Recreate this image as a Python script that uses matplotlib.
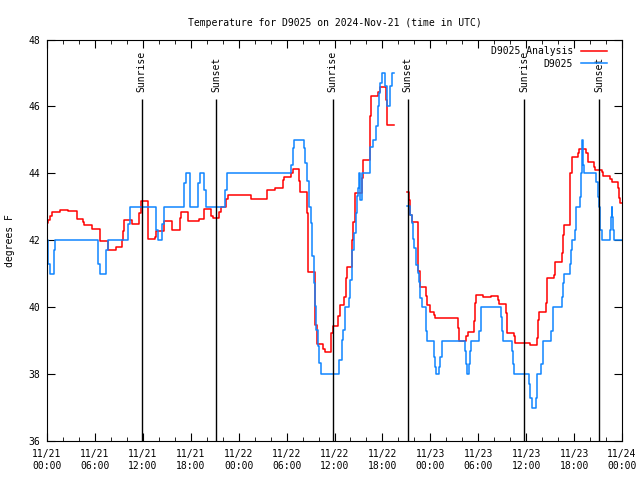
import matplotlib
matplotlib.use("Agg")
import matplotlib.pyplot as plt
import matplotlib.dates as mdates
import numpy as np

plt.rcParams["font.family"] = ["DejaVu Sans Mono"]
plt.rcParams["font.size"] = 7

# --------------------------------------------------------
# Data (hours since 2024-11-21 00:00 UTC, degrees F)
# --------------------------------------------------------

base = np.datetime64("2024-11-21T00:00")

red_h1 = [0, 0.17, 0.33, 0.67, 1.63, 2.59, 3.71, 4.55, 4.67, 5.68, 6.64, 7.68,
          8.6, 9.35, 9.56, 9.68, 10.69, 11.56, 11.77, 12.7, 13.5, 13.65, 14.65,
          15.6, 15.7, 16.65, 16.75, 17.7, 19.05, 19.6, 20.5, 20.75, 21.5, 21.75,
          22.4, 22.7, 25.6, 27.6, 28.6, 29.5, 29.65, 30.6, 30.8, 31.55, 31.7,
          32.55, 32.63, 32.7, 33.5, 33.6, 33.77, 34.6, 34.8, 35.6, 35.8, 36.5,
          36.7, 37.2, 37.4, 37.6, 38.15, 38.35, 38.55, 39.4, 39.6, 40.4, 40.5,
          40.6, 41.5, 41.7, 42.4, 42.6, 43.4]
red_v1 = [42.51, 42.61, 42.73, 42.84, 42.90, 42.86, 42.65, 42.56, 42.46, 42.34,
          41.99, 41.71, 41.80, 42.01, 42.29, 42.60, 42.50, 42.81, 43.17, 42.04,
          42.10, 42.29, 42.59, 42.43, 42.31, 42.66, 42.83, 42.59, 42.65, 42.93,
          42.73, 42.66, 42.83, 42.99, 43.23, 43.36, 43.24, 43.49, 43.56, 43.79,
          43.90, 44.0, 44.13, 43.76, 43.43, 42.81, 41.62, 41.05, 40.52, 39.48,
          38.91, 38.75, 38.66, 39.23, 39.45, 39.73, 40.05, 40.3, 40.87, 41.2,
          42.01, 42.56, 43.41, 43.86, 44.4, 44.9, 45.7, 46.31, 46.44, 46.59,
          46.2, 45.45, 45.45]

red_h2 = [45.1, 45.35, 45.5, 45.7, 46.4, 46.5, 46.7, 47.5, 47.6, 47.9, 48.45,
          48.6, 51.5, 51.6, 52.5, 52.7, 53.5, 53.6, 53.7, 54.55, 55.6, 56.5,
          56.6, 57.5, 57.6, 58.5, 58.6, 60.5, 61.3, 61.45, 61.6, 62.5, 62.65,
          63.45, 63.65, 64.45, 64.55, 64.7, 65.5, 65.55, 65.7, 66.5, 66.65,
          67.5, 67.7, 68.5, 68.66, 69.46, 69.66, 70.5, 70.7, 71.5, 71.65, 71.8,
          72.0]
red_v2 = [43.44, 43.19, 42.76, 42.54, 42.04, 41.07, 40.6, 40.32, 40.07, 39.87,
          39.78, 39.68, 39.38, 39.0, 39.13, 39.26, 39.58, 40.13, 40.35, 40.29,
          40.33, 40.2, 40.1, 39.83, 39.23, 39.13, 38.93, 38.86, 39.08, 39.63,
          39.87, 40.12, 40.87, 40.97, 41.35, 41.62, 42.16, 42.45, 42.99, 44.0,
          44.48, 44.6, 44.72, 44.6, 44.33, 44.2, 44.1, 44.04, 43.93, 43.83,
          43.74, 43.56, 43.26, 43.1, 43.1]

blue_h1 = [0, 0.17, 0.35, 0.85, 1.0, 6.43, 6.6, 7.45, 7.6, 10.18, 10.4, 13.7,
           13.9, 14.4, 14.65, 17.2, 17.45, 17.85, 18.95, 19.2, 19.6, 19.85,
           22.3, 22.5, 30.6, 30.8, 30.97, 32.2, 32.35, 32.6, 32.85, 33.06, 33.2,
           33.4, 33.56, 33.7, 33.9, 34.06, 34.27, 36.6, 36.9, 37.1, 37.3, 37.85,
           38.0, 38.2, 38.45, 38.65, 38.8, 38.98, 39.1, 39.25, 39.45, 40.45,
           40.8, 41.2, 41.4, 41.6, 41.7, 41.9, 42.35, 42.6, 42.95, 43.15, 43.4]
blue_v1 = [42.0, 41.3, 41.0, 41.7, 42.0, 41.3, 41.0, 41.7, 42.0, 42.5, 43.0,
           42.3, 42.0, 42.5, 43.0, 43.7, 44.0, 43.0, 43.7, 44.0, 43.5, 43.0,
           43.5, 44.0, 44.25, 44.75, 45.0, 44.75, 44.3, 43.76, 43.0, 42.51,
           41.52, 40.72, 40.02, 39.33, 38.85, 38.33, 38.0, 38.43, 39.03, 39.33,
           40.0, 40.27, 40.82, 41.72, 42.21, 42.81, 43.31, 43.56, 44.0, 43.2,
           44.0, 44.8, 45.0, 45.4, 46.0, 46.4, 46.7, 47.0, 46.6, 46.0, 46.6,
           47.0, 47.0]

blue_h2 = [45.1, 45.5, 45.65, 45.8, 46.0, 46.2, 46.4, 46.6, 46.75, 46.9, 47.4,
           47.5, 47.6, 48.4, 48.55, 48.65, 49.1, 49.25, 49.4, 52.4, 52.5, 52.6,
           52.85, 52.95, 53.1, 54.1, 54.3, 54.4, 56.85, 56.95, 57.15, 58.2,
           58.35, 58.5, 60.4, 60.5, 60.7, 61.2, 61.3, 61.4, 61.9, 62.05, 62.15,
           63.1, 63.3, 63.4, 64.45, 64.57, 64.7, 65.5, 65.57, 65.7, 66.1, 66.2,
           66.3, 66.75, 66.83, 66.9, 66.96, 67.07, 67.24, 68.8, 68.95, 69.1,
           69.25, 69.3, 69.45, 70.5, 70.58, 70.7, 70.8, 70.87, 71.0, 72.0]
blue_v2 = [43.03, 42.76, 42.51, 42.04, 41.77, 41.27, 41.02, 40.74, 40.27, 40.0,
           39.73, 39.28, 39.0, 38.5, 38.2, 38.0, 38.2, 38.5, 39.0, 38.7, 38.3,
           38.0, 38.3, 38.7, 39.0, 39.3, 39.7, 40.0, 39.7, 39.3, 39.0, 38.7,
           38.3, 38.0, 37.7, 37.3, 37.0, 37.3, 37.7, 38.0, 38.3, 38.7, 39.0,
           39.3, 39.7, 40.0, 40.3, 40.72, 41.0, 41.3, 41.7, 42.0, 42.3, 42.7,
           43.0, 43.3, 43.75, 44.0, 45.0, 44.25, 44.0, 43.75, 43.3, 43.0, 42.7,
           42.3, 42.0, 42.3, 42.7, 43.0, 42.7, 42.3, 42.0, 42.0]

event_h = [11.83, 21.2, 35.77, 45.17, 59.77, 69.15]
event_names = ["Sunrise", "Sunset", "Sunrise", "Sunset", "Sunrise", "Sunset"]


def to_time(hours):
    return base + (np.array(hours) * 60).round().astype("timedelta64[m]")


# --------------------------------------------------------
# Plot
# --------------------------------------------------------

fig = plt.figure(figsize=(6.4, 4.8), dpi=100)
ax = fig.add_axes([47 / 640, 39 / 480, 575 / 640, 401.5 / 480])

red = "#ff0000"
blue = "#0f85ff"

ax.step(to_time(red_h1), red_v1, where="post", color=red, lw=1.1,
        label="D9025 Analysis")
ax.step(to_time(red_h2), red_v2, where="post", color=red, lw=1.1)
ax.step(to_time(blue_h1), blue_v1, where="post", color=blue, lw=1.1,
        label="D9025")
ax.step(to_time(blue_h2), blue_v2, where="post", color=blue, lw=1.1)

for h, name in zip(event_h, event_names):
    t = to_time([h])[0]
    ax.vlines(t, 36, 46.22, color="black", lw=1.0)
    ax.text(t, 46.43, name, rotation=90, ha="center", va="bottom")

ax.set_xlim(to_time([0])[0], to_time([72])[0])
ax.set_ylim(36, 48)

ax.xaxis.set_major_locator(mdates.HourLocator(byhour=range(0, 24, 6)))
ax.xaxis.set_minor_locator(mdates.HourLocator(byhour=range(0, 24, 2)))
ax.xaxis.set_major_formatter(mdates.DateFormatter("%m/%d\n%H:%M"))
ax.set_yticks(np.arange(36, 49, 2))

ax.tick_params(which="both", direction="in", top=True, right=True)
ax.tick_params(which="major", length=6, pad=6)
ax.tick_params(which="minor", length=3)
ax.tick_params(axis="y", pad=5)

ax.set_title("Temperature for D9025 on 2024-Nov-21 (time in UTC)", pad=10,
             fontsize=7)
ax.set_ylabel("degrees F")
ax.yaxis.set_label_coords(-0.055, 0.5)

ax.legend(loc="upper right", bbox_to_anchor=(0.986, 1.0), frameon=False,
          markerfirst=False, handlelength=2.7, handletextpad=0.8,
          labelspacing=0.25, borderaxespad=0.3, borderpad=0.4)

fig.savefig("out.png", dpi=100)
